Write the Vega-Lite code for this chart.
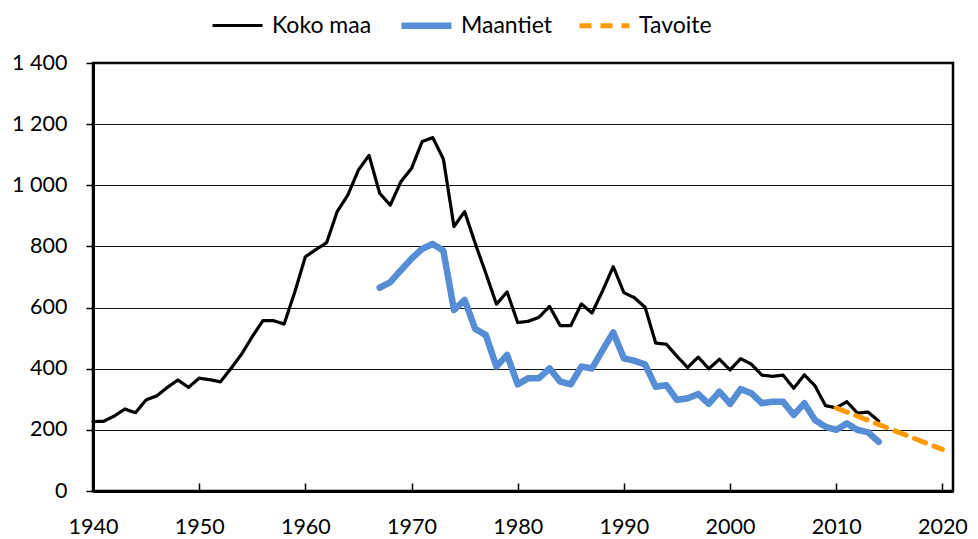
{
  "$schema": "https://vega.github.io/schema/vega-lite/v6.json",
  "autosize": {"type": "none"},
  "width": 860,
  "height": 428,
  "padding": {"left": 93, "top": 63, "right": 25, "bottom": 48},
  "background": "white",
  "config": {
    "view": {"stroke": "#000", "strokeWidth": 2.5},
    "font": "Lato",
    "axis": {"labelFont": "Lato", "labelFontSize": 21.5, "labelColor": "#000", "domainColor": "#000", "tickColor": "#000", "titleFontSize": 0},
    "legend": {"title": null, "orient": "none", "legendX": 116, "legendY": -66, "direction": "horizontal", "columns": 3, "columnPadding": 16, "symbolType": "stroke", "symbolSize": 2500, "labelOffset": 6, "labelFont": "Lato", "labelFontSize": 23, "labelColor": "#000"}
  },
  "datasets": {
    "rows": [
      {"year": 1940, "series": "Koko maa", "value": 227},
      {"year": 1941, "series": "Koko maa", "value": 228},
      {"year": 1942, "series": "Koko maa", "value": 245},
      {"year": 1943, "series": "Koko maa", "value": 268},
      {"year": 1944, "series": "Koko maa", "value": 256},
      {"year": 1945, "series": "Koko maa", "value": 298},
      {"year": 1946, "series": "Koko maa", "value": 311},
      {"year": 1947, "series": "Koko maa", "value": 339},
      {"year": 1948, "series": "Koko maa", "value": 363},
      {"year": 1949, "series": "Koko maa", "value": 339},
      {"year": 1950, "series": "Koko maa", "value": 369},
      {"year": 1951, "series": "Koko maa", "value": 364},
      {"year": 1952, "series": "Koko maa", "value": 357},
      {"year": 1953, "series": "Koko maa", "value": 401},
      {"year": 1954, "series": "Koko maa", "value": 448},
      {"year": 1955, "series": "Koko maa", "value": 505},
      {"year": 1956, "series": "Koko maa", "value": 557},
      {"year": 1957, "series": "Koko maa", "value": 557},
      {"year": 1958, "series": "Koko maa", "value": 546},
      {"year": 1959, "series": "Koko maa", "value": 650},
      {"year": 1960, "series": "Koko maa", "value": 766},
      {"year": 1961, "series": "Koko maa", "value": 790},
      {"year": 1962, "series": "Koko maa", "value": 812},
      {"year": 1963, "series": "Koko maa", "value": 914},
      {"year": 1964, "series": "Koko maa", "value": 968},
      {"year": 1965, "series": "Koko maa", "value": 1050},
      {"year": 1966, "series": "Koko maa", "value": 1098},
      {"year": 1967, "series": "Koko maa", "value": 974},
      {"year": 1968, "series": "Koko maa", "value": 935},
      {"year": 1969, "series": "Koko maa", "value": 1012},
      {"year": 1970, "series": "Koko maa", "value": 1055},
      {"year": 1971, "series": "Koko maa", "value": 1143},
      {"year": 1972, "series": "Koko maa", "value": 1156},
      {"year": 1973, "series": "Koko maa", "value": 1086},
      {"year": 1974, "series": "Koko maa", "value": 865},
      {"year": 1975, "series": "Koko maa", "value": 914},
      {"year": 1976, "series": "Koko maa", "value": 810},
      {"year": 1977, "series": "Koko maa", "value": 712},
      {"year": 1978, "series": "Koko maa", "value": 611},
      {"year": 1979, "series": "Koko maa", "value": 651},
      {"year": 1980, "series": "Koko maa", "value": 551},
      {"year": 1981, "series": "Koko maa", "value": 555},
      {"year": 1982, "series": "Koko maa", "value": 568},
      {"year": 1983, "series": "Koko maa", "value": 604},
      {"year": 1984, "series": "Koko maa", "value": 541},
      {"year": 1985, "series": "Koko maa", "value": 541},
      {"year": 1986, "series": "Koko maa", "value": 612},
      {"year": 1987, "series": "Koko maa", "value": 582},
      {"year": 1988, "series": "Koko maa", "value": 655},
      {"year": 1989, "series": "Koko maa", "value": 734},
      {"year": 1990, "series": "Koko maa", "value": 649},
      {"year": 1991, "series": "Koko maa", "value": 632},
      {"year": 1992, "series": "Koko maa", "value": 601},
      {"year": 1993, "series": "Koko maa", "value": 484},
      {"year": 1994, "series": "Koko maa", "value": 480},
      {"year": 1995, "series": "Koko maa", "value": 441},
      {"year": 1996, "series": "Koko maa", "value": 404},
      {"year": 1997, "series": "Koko maa", "value": 438},
      {"year": 1998, "series": "Koko maa", "value": 400},
      {"year": 1999, "series": "Koko maa", "value": 431},
      {"year": 2000, "series": "Koko maa", "value": 396},
      {"year": 2001, "series": "Koko maa", "value": 433},
      {"year": 2002, "series": "Koko maa", "value": 415},
      {"year": 2003, "series": "Koko maa", "value": 379},
      {"year": 2004, "series": "Koko maa", "value": 375},
      {"year": 2005, "series": "Koko maa", "value": 379},
      {"year": 2006, "series": "Koko maa", "value": 336},
      {"year": 2007, "series": "Koko maa", "value": 380},
      {"year": 2008, "series": "Koko maa", "value": 344},
      {"year": 2009, "series": "Koko maa", "value": 279},
      {"year": 2010, "series": "Koko maa", "value": 272},
      {"year": 2011, "series": "Koko maa", "value": 292},
      {"year": 2012, "series": "Koko maa", "value": 255},
      {"year": 2013, "series": "Koko maa", "value": 258},
      {"year": 2014, "series": "Koko maa", "value": 229},
      {"year": 1967, "series": "Maantiet", "value": 665},
      {"year": 1968, "series": "Maantiet", "value": 683},
      {"year": 1969, "series": "Maantiet", "value": 722},
      {"year": 1970, "series": "Maantiet", "value": 760},
      {"year": 1971, "series": "Maantiet", "value": 792},
      {"year": 1972, "series": "Maantiet", "value": 808},
      {"year": 1973, "series": "Maantiet", "value": 786},
      {"year": 1974, "series": "Maantiet", "value": 592},
      {"year": 1975, "series": "Maantiet", "value": 625},
      {"year": 1976, "series": "Maantiet", "value": 530},
      {"year": 1977, "series": "Maantiet", "value": 510},
      {"year": 1978, "series": "Maantiet", "value": 407},
      {"year": 1979, "series": "Maantiet", "value": 445},
      {"year": 1980, "series": "Maantiet", "value": 349},
      {"year": 1981, "series": "Maantiet", "value": 369},
      {"year": 1982, "series": "Maantiet", "value": 369},
      {"year": 1983, "series": "Maantiet", "value": 401},
      {"year": 1984, "series": "Maantiet", "value": 358},
      {"year": 1985, "series": "Maantiet", "value": 349},
      {"year": 1986, "series": "Maantiet", "value": 407},
      {"year": 1987, "series": "Maantiet", "value": 401},
      {"year": 1988, "series": "Maantiet", "value": 461},
      {"year": 1989, "series": "Maantiet", "value": 519},
      {"year": 1990, "series": "Maantiet", "value": 434},
      {"year": 1991, "series": "Maantiet", "value": 426},
      {"year": 1992, "series": "Maantiet", "value": 414},
      {"year": 1993, "series": "Maantiet", "value": 341},
      {"year": 1994, "series": "Maantiet", "value": 346},
      {"year": 1995, "series": "Maantiet", "value": 298},
      {"year": 1996, "series": "Maantiet", "value": 303},
      {"year": 1997, "series": "Maantiet", "value": 317},
      {"year": 1998, "series": "Maantiet", "value": 285},
      {"year": 1999, "series": "Maantiet", "value": 325},
      {"year": 2000, "series": "Maantiet", "value": 285},
      {"year": 2001, "series": "Maantiet", "value": 333},
      {"year": 2002, "series": "Maantiet", "value": 320},
      {"year": 2003, "series": "Maantiet", "value": 287},
      {"year": 2004, "series": "Maantiet", "value": 292},
      {"year": 2005, "series": "Maantiet", "value": 292},
      {"year": 2006, "series": "Maantiet", "value": 249},
      {"year": 2007, "series": "Maantiet", "value": 287},
      {"year": 2008, "series": "Maantiet", "value": 232},
      {"year": 2009, "series": "Maantiet", "value": 210},
      {"year": 2010, "series": "Maantiet", "value": 200},
      {"year": 2011, "series": "Maantiet", "value": 221},
      {"year": 2012, "series": "Maantiet", "value": 200},
      {"year": 2013, "series": "Maantiet", "value": 192},
      {"year": 2014, "series": "Maantiet", "value": 161},
      {"year": 2010, "series": "Tavoite", "value": 272},
      {"year": 2020, "series": "Tavoite", "value": 136}
    ]
  },
  "data": {"name": "rows"},
  "encoding": {
    "x": {
      "field": "year", "type": "quantitative",
      "scale": {"domain": [1940, 2021], "nice": false, "zero": false},
      "axis": {"title": null, "values": [1940, 1950, 1960, 1970, 1980, 1990, 2000, 2010, 2020], "format": "d", "grid": false, "domainWidth": 3, "tickSize": -8, "tickWidth": 1.5, "labelPadding": 33, "labelFlush": false, "labelOverlap": false}
    },
    "y": {
      "field": "value", "type": "quantitative",
      "scale": {"domain": [0, 1400], "nice": false},
      "axis": {"title": null, "values": [0, 200, 400, 600, 800, 1000, 1200, 1400], "labelExpr": "replace(format(datum.value, ','), ',', ' ')", "grid": true, "gridColor": "#111", "gridWidth": 1.2, "domainWidth": 3, "tickSize": 7, "tickWidth": 1.5, "labelPadding": 19}
    },
    "color": {
      "field": "series", "type": "nominal",
      "scale": {"domain": ["Koko maa", "Maantiet", "Tavoite"], "range": ["#000000", "#558ED5", "#FF9900"]}
    },
    "strokeWidth": {
      "field": "series", "type": "nominal",
      "scale": {"type": "ordinal", "domain": ["Koko maa", "Maantiet", "Tavoite"], "range": [3.2, 6.5, 5]}
    },
    "strokeDash": {
      "field": "series", "type": "nominal",
      "scale": {"domain": ["Koko maa", "Maantiet", "Tavoite"], "range": [[1, 0], [1, 0], [12, 9]]}
    }
  },
  "layer": [
    {"transform": [{"filter": "datum.series === 'Koko maa'"}], "mark": {"type": "line", "strokeJoin": "round", "strokeCap": "round"}},
    {"transform": [{"filter": "datum.series === 'Maantiet'"}], "mark": {"type": "line", "strokeJoin": "round", "strokeCap": "round"}},
    {"transform": [{"filter": "datum.series === 'Tavoite'"}], "mark": {"type": "line", "strokeJoin": "round", "strokeCap": "round"}}
  ]
}
